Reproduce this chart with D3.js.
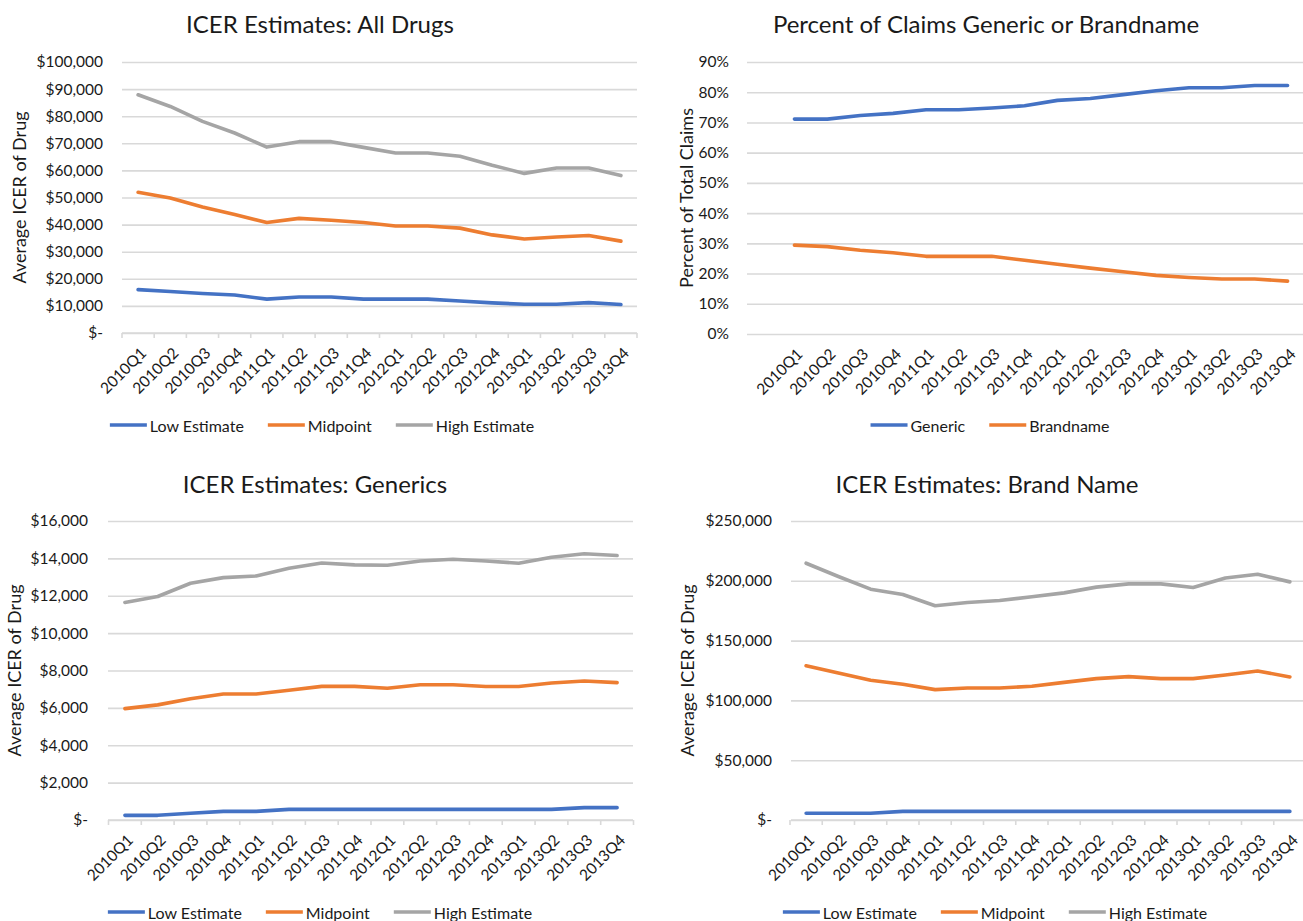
<!DOCTYPE html>
<html>
<head>
<meta charset="utf-8">
<script src="https://cdn.jsdelivr.net/npm/d3@7/dist/d3.min.js"></script>
<style>
  html, body { margin: 0; padding: 0; background: #fff; }
  svg { display: block; font-family: Lato, "Open Sans", sans-serif; }
</style>
</head>
<body>
<svg id="chart" width="1303" height="921"></svg>
<script>
// Quarters shared by all four panels
const quarters = ["2010Q1","2010Q2","2010Q3","2010Q4","2011Q1","2011Q2","2011Q3","2011Q4",
                  "2012Q1","2012Q2","2012Q3","2012Q4","2013Q1","2013Q2","2013Q3","2013Q4"];

// ICER estimates, all drugs ($)
const allLow  = [16000,15300,14600,14000,12500,13300,13300,12500,12500,12500,11800,11100,10600,10600,11200,10500];
const allMid  = [51900,49800,46500,43700,40800,42300,41600,40800,39500,39500,38700,36200,34700,35400,36000,33900];
const allHigh = [87900,83600,78100,73800,68600,70600,70600,68500,66400,66400,65200,61900,58900,60900,60900,58100];

// Share of claims (fraction of total)
const pctGeneric = [0.711,0.711,0.723,0.730,0.742,0.742,0.748,0.755,0.773,0.779,0.792,0.805,0.815,0.815,0.822,0.822];
const pctBrand   = [0.294,0.289,0.277,0.269,0.257,0.257,0.257,0.244,0.231,0.218,0.206,0.194,0.187,0.182,0.182,0.175];

// ICER estimates, generics ($)
const genLow  = [250,250,360,460,460,570,570,570,570,570,570,570,570,570,660,660];
const genMid  = [5960,6160,6490,6740,6740,6940,7150,7150,7050,7240,7240,7140,7140,7330,7440,7350];
const genHigh = [11640,11960,12670,12970,13060,13470,13750,13650,13630,13860,13950,13860,13740,14060,14250,14150];

// ICER estimates, brand name ($)
const brLow  = [5600,5600,5600,7200,7200,7200,7200,7200,7200,7200,7200,7200,7200,7200,7200,7200];
const brMid  = [129000,122900,116800,113500,109000,110400,110400,111800,115100,118200,119900,118200,118200,121200,124600,119600];
const brHigh = [214700,203600,193000,188600,179100,181900,183500,186600,189900,194700,197400,197400,194400,202400,205500,199100];

// Tick values
const ticksAll   = d3.range(0, 100001, 10000);
const ticksPct   = d3.range(0, 0.91, 0.1);
const ticksGen   = d3.range(0, 16001, 2000);
const ticksBrand = d3.range(0, 250001, 50000);

const estimateNames = ["Low Estimate", "Midpoint", "High Estimate"];
const shareNames = ["Generic", "Brandname"];
const colors = ["#4472C4", "#ED7D31", "#A5A5A5"];

const svg = d3.select("#chart");
const textColor = "#1a1a1a";
const gridColor = "#D9D9D9";

const dollar = v => v === 0 ? "$-" : "$" + d3.format(",")(v);
const percent = v => Math.round(v * 100) + "%";

function drawPanel(p) {
  const g = svg.append("g");

  const x = d3.scaleBand().domain(quarters).range([p.bandLeft, p.bandRight]);
  const y = d3.scaleLinear().domain(p.domain).range([p.bottom, p.top]);

  // Title
  g.append("text")
    .attr("x", p.titleX).attr("y", p.titleY)
    .attr("text-anchor", "middle").attr("dominant-baseline", "central")
    .attr("font-size", 24).attr("fill", textColor)
    .text(p.title);

  // Y axis title
  g.append("text")
    .attr("transform", `translate(${p.yTitleX},${(p.top + p.bottom) / 2}) rotate(-90)`)
    .attr("text-anchor", "middle").attr("dominant-baseline", "central")
    .attr("font-size", 18).attr("fill", textColor)
    .text(p.yTitle);

  // Gridlines + tick labels
  const yAxis = g.append("g")
    .attr("transform", `translate(${p.gridLeft},0)`)
    .call(d3.axisLeft(y).tickValues(p.ticks).tickFormat(p.format)
      .tickSize(-(p.gridRight - p.gridLeft)).tickPadding(p.gridLeft - p.labelRight));
  yAxis.select(".domain").remove();
  yAxis.selectAll(".tick line").attr("stroke", gridColor).attr("stroke-width", 1.6);
  yAxis.selectAll(".tick text").attr("font-size", 15.5).attr("fill", textColor)
    .attr("font-family", "Lato, sans-serif");

  // Category axis
  const xAxis = g.append("g").attr("transform", `translate(0,${p.bottom})`);
  if (p.axisTicks) {
    xAxis.append("line")
      .attr("x1", p.gridLeft).attr("x2", p.gridRight)
      .attr("stroke", gridColor).attr("stroke-width", 1.6);
    const bounds = quarters.map(q => x(q)).concat([x(quarters[quarters.length - 1]) + x.bandwidth()]);
    xAxis.selectAll("line.tk").data(bounds).join("line")
      .attr("class", "tk")
      .attr("x1", d => d).attr("x2", d => d)
      .attr("y1", 0).attr("y2", 5)
      .attr("stroke", gridColor).attr("stroke-width", 1.6);
  }
  xAxis.selectAll("text").data(quarters).join("text")
    .attr("transform", d => `translate(${x(d) + x.bandwidth() / 2 + 5},${17}) rotate(-45)`)
    .attr("text-anchor", "end").attr("dominant-baseline", "central")
    .attr("font-size", 15.5).attr("fill", textColor)
    .text(d => d);

  // Series lines
  const line = d3.line()
    .x((d, i) => x(quarters[i]) + x.bandwidth() / 2)
    .y(d => y(d));
  g.selectAll("path.series").data(p.series).join("path")
    .attr("class", "series")
    .attr("d", d => line(d))
    .attr("fill", "none")
    .attr("stroke", (d, i) => colors[i])
    .attr("stroke-width", 3.6)
    .attr("stroke-linejoin", "round")
    .attr("stroke-linecap", "round");

  // Legend, centered under the panel
  const leg = g.append("g");
  let cursor = 0;
  p.names.forEach((name, i) => {
    const it = leg.append("g").attr("transform", `translate(${cursor},0)`);
    it.append("line").attr("x1", 0).attr("x2", 37).attr("y1", 0).attr("y2", 0)
      .attr("stroke", colors[i]).attr("stroke-width", 3.6);
    const t = it.append("text").attr("x", 40).attr("y", 0)
      .attr("dominant-baseline", "central")
      .attr("font-size", 16).attr("fill", textColor).text(name);
    cursor += 40 + t.node().getComputedTextLength() + 24;
  });
  const total = cursor - 24;
  leg.attr("transform", `translate(${p.legendX - total / 2},${p.legendY})`);
}

drawPanel({
  title: "ICER Estimates: All Drugs", titleX: 320, titleY: 23,
  yTitle: "Average ICER of Drug", yTitleX: 19,
  domain: [0, 100000], ticks: ticksAll, format: dollar,
  gridLeft: 122, gridRight: 637, bandLeft: 122, bandRight: 637,
  top: 62, bottom: 333, labelRight: 103, axisTicks: true,
  series: [allLow, allMid, allHigh], names: estimateNames,
  legendX: 322, legendY: 425
});

drawPanel({
  title: "Percent of Claims Generic or Brandname", titleX: 986, titleY: 23,
  yTitle: "Percent of Total Claims", yTitleX: 686,
  domain: [0, 0.9], ticks: ticksPct, format: percent,
  gridLeft: 747, gridRight: 1303, bandLeft: 778, bandRight: 1304,
  top: 62, bottom: 334, labelRight: 729, axisTicks: false,
  series: [pctGeneric, pctBrand], names: shareNames,
  legendX: 990, legendY: 425
});

drawPanel({
  title: "ICER Estimates: Generics", titleX: 315, titleY: 483,
  yTitle: "Average ICER of Drug", yTitleX: 14,
  domain: [0, 16000], ticks: ticksGen, format: dollar,
  gridLeft: 108, gridRight: 633, bandLeft: 108.5, bandRight: 633.5,
  top: 521, bottom: 820, labelRight: 88, axisTicks: true,
  series: [genLow, genMid, genHigh], names: estimateNames,
  legendX: 320, legendY: 912
});

drawPanel({
  title: "ICER Estimates: Brand Name", titleX: 987, titleY: 483,
  yTitle: "Average ICER of Drug", yTitleX: 687,
  domain: [0, 250000], ticks: ticksBrand, format: dollar,
  gridLeft: 791, gridRight: 1303, bandLeft: 790, bandRight: 1306,
  top: 521, bottom: 820, labelRight: 772, axisTicks: true,
  series: [brLow, brMid, brHigh], names: estimateNames,
  legendX: 995, legendY: 912
});
</script>
</body>
</html>
